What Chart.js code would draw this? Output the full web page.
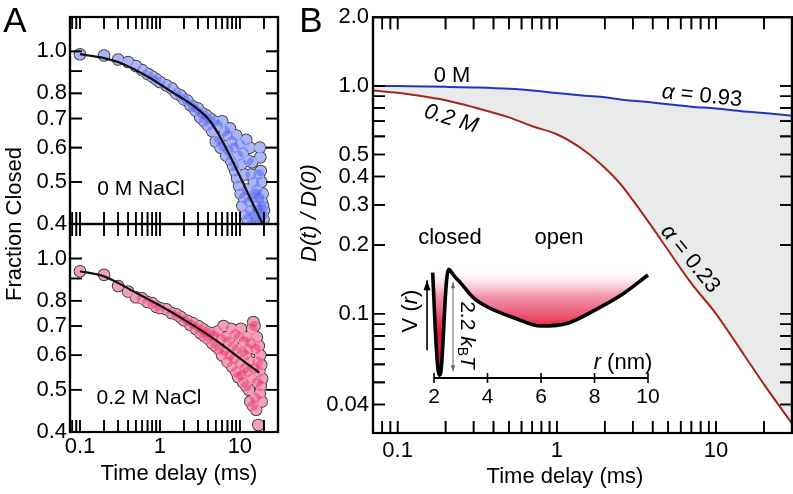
<!DOCTYPE html>
<html><head><meta charset="utf-8">
<script src="https://cdn.jsdelivr.net/npm/chart.js@4.4.1/dist/chart.umd.min.js"></script>
<style>
html,body{margin:0;padding:0;background:#fff;}
#wrap{position:relative;width:793px;height:494px;overflow:hidden;}
canvas{position:absolute;left:0;top:0;width:793px;height:494px;}
</style></head>
<body><div id="wrap">
<canvas id="cA1" width="793" height="494"></canvas>
<canvas id="cA2" width="793" height="494"></canvas>
<canvas id="cB" width="793" height="494"></canvas>
<canvas id="cI" width="793" height="494"></canvas>
</div>
<script>
const FF = '"Liberation Sans", Arial, Helvetica, sans-serif';

// ---------- Panel A data ----------
const tA0 = [0.1,0.2,0.3,0.4,0.5,0.6,0.7,0.8,0.9,1.0,
 1.2,1.4,1.6,1.8,2.0,2.2,2.4,2.6,2.8,3.0,3.2,3.4,3.6,3.8,4.0,
 4.25,4.5,4.75,5.0,5.25,5.5,5.75,6.0,6.25,6.5,6.75,7.0,7.25,7.5,7.75,8.0,8.25,8.5,8.75,9.0,9.25,9.5,9.75,10.0,
 10.25,10.5,10.75,11.0,11.25,11.5,11.75,12.0,12.25,12.5,12.75,13.0,13.25,13.5,13.75,14.0,14.25,14.5,14.75,15.0,
 15.25,15.5,15.75,16.0,16.25,16.5,16.75,17.0,17.25,17.5,17.75,18.0,18.25,18.5,18.75,19.0,19.25,19.5,19.75,20.0];
const fA0 = [0.985,0.978,0.958,0.945,0.925,0.905,0.888,0.875,0.862,0.85,
 0.835,0.822,0.80,0.792,0.775,0.77,0.752,0.745,0.73,0.738,0.705,0.72,0.69,0.712,0.675,
 0.70,0.655,0.69,0.62,0.675,0.63,0.60,0.69,0.605,0.655,0.575,0.64,0.59,0.665,0.56,0.62,0.545,0.60,0.53,0.64,0.51,0.575,0.49,0.61,
 0.47,0.55,0.44,0.585,0.46,0.52,0.42,0.625,0.48,0.41,0.56,0.45,0.60,0.43,0.52,0.40,0.555,0.46,0.39,0.50,
 0.42,0.47,0.41,0.44,0.38,0.48,0.43,0.40,0.52,0.46,0.60,0.57,0.53,0.50,0.45,0.42,0.47,0.44,0.41,0.43];
const tFit0 = [0.1,0.2,0.3,0.5,0.7,1,1.5,2,3,4,5,7,10,14,19.4];
const fFit0 = [0.985,0.965,0.945,0.905,0.875,0.84,0.80,0.775,0.735,0.70,0.66,0.59,0.515,0.452,0.40];

const tA2 = [0.1,0.2,0.3,0.4,0.5,0.6,0.7,0.8,0.9,1.0,
 1.2,1.4,1.6,1.8,2.0,2.2,2.4,2.6,2.8,3.0,3.2,3.4,3.6,3.8,4.0,
 4.25,4.5,4.75,5.0,5.25,5.5,5.75,6.0,6.25,6.5,6.75,7.0,7.25,7.5,7.75,8.0,8.25,8.5,8.75,9.0,9.25,9.5,9.75,10.0,
 10.25,10.5,10.75,11.0,11.25,11.5,11.75,12.0,12.25,12.5,12.75,13.0,13.25,13.5,13.75,14.0,14.25,14.5,14.75,15.0,
 15.25,15.5,15.75,16.0,16.25,16.5,16.75,17.0,17.25,17.5,17.75,18.0,18.25,18.5,18.75,19.0];
const fA2 = [0.935,0.918,0.865,0.84,0.815,0.81,0.795,0.79,0.775,0.77,
 0.765,0.75,0.745,0.735,0.722,0.72,0.705,0.71,0.69,0.70,0.675,0.69,0.665,0.68,0.655,
 0.675,0.64,0.665,0.63,0.68,0.62,0.655,0.60,0.70,0.615,0.66,0.58,0.645,0.60,0.69,0.565,0.63,0.59,0.67,0.55,0.62,0.535,0.66,0.575,
 0.69,0.54,0.61,0.52,0.645,0.56,0.60,0.51,0.66,0.55,0.62,0.50,0.58,0.47,0.64,0.53,0.69,0.46,0.715,0.56,
 0.70,0.48,0.62,0.45,0.66,0.52,0.58,0.415,0.63,0.55,0.49,0.60,0.51,0.57,0.47,0.53];
const tFit2 = [0.1,0.2,0.5,1,2,5,10,17.5];
const fFit2 = [0.935,0.91,0.835,0.78,0.724,0.65,0.59,0.547];

// ---------- Panel B data ----------
const tB = [0.07,0.1,0.15,0.2,0.3,0.5,0.7,1,1.5,2,2.5,3,4,5,7,10,15,20,30];
const dB0M = [1.0,0.997,0.994,0.99,0.983,0.97,0.955,0.93,0.905,0.89,0.872,0.86,0.845,0.83,0.81,0.795,0.772,0.76,0.74];
const dB02M = [0.955,0.932,0.895,0.864,0.805,0.727,0.665,0.613,0.518,0.437,0.372,0.315,0.238,0.19,0.136,0.1,0.066,0.049,0.033];

// ---------- Inset (potential) data ----------
const rInset = [1.9,1.95,2.0,2.05,2.1,2.15,2.2,2.25,2.3,2.35,2.4,2.45,2.5,2.56,2.65,2.8,3.0,3.5,4.0,5.0,6.0,7.0,8.0,9.0,10.0];
const vInset = [2.6,2.15,1.55,0.95,0.45,0.12,0.0,0.05,0.35,0.85,1.4,1.85,2.12,2.22,2.16,2.05,1.93,1.61,1.43,1.2,1.03,1.09,1.36,1.68,2.1];
const insetFillTop = 2.28;
const insetTickVals = [2,4,6,8,10];
const arrowR = 1.74, arrowV = [0.52, 1.99];
const barrierR = 2.71, barrierV = [0.08, 1.95];

// ---------- axis ranges & ticks ----------
const xRangeA = [0.075, 30], yRangeA = [0.4, 1.2];
const xRangeB = [0.07, 30], yRangeB = [0.03, 2.0];
const xLabelsA = [0.1,1,10];
const yLabelsA = [1.0,0.8,0.7,0.6,0.5,0.4];
const xTicksA = [0.08,0.09,0.1,0.2,0.3,0.4,0.5,0.6,0.7,0.8,0.9,1,2,3,4,5,6,7,8,9,10,20];
const yTicksA = [1.0,0.9,0.8,0.7,0.6,0.5];
const xLabelsB = [0.1,1,10];
const yLabelsB = [2.0,1.0,0.5,0.4,0.3,0.2,0.1,0.04];
const xTicksB = [0.08,0.09,0.1,0.2,0.3,0.4,0.5,0.6,0.7,0.8,0.9,1,2,3,4,5,6,7,8,9,10,20];
const yTicksB = [1.0,0.9,0.8,0.7,0.6,0.5,0.4,0.3,0.2,0.1,0.09,0.08,0.07,0.06,0.05,0.04];

// ---------- annotation texts: [cx, cy, angle, size, runs] ----------
const texts = [
  [15, 22, 0, 35, [['A']]],
  [311, 22, 0, 35, [['B']]],
  [15, 224, -90, 22, [['Fraction Closed']]],
  [179, 474, 0, 22, [['Time delay (ms)']]],
  [565, 477, 0, 22, [['Time delay (ms)']]],
  [310, 213, -90, 22, [['D(t) / D(0)', 1]]],
  [141, 189, 0, 21, [['0 M NaCl']]],
  [149, 398, 0, 21, [['0.2 M NaCl']]],
  [452, 76, 0, 22, [['0 M']]],
  [451, 119, 17, 22, [['0.2 M', 1]]],
  [702, 96, 6, 22, [['α', 1], [' = 0.93']]],
  [690, 259, 51, 22, [['α', 1], [' = 0.23']]],
  [450, 238, 0, 22, [['closed']]],
  [559, 238, 0, 22, [['open']]],
  [411, 311, -90, 22, [['V ('], ['r', 1], [')']]],
  [467, 335, 90, 21, [['2.2 '], ['k', 1], ['B', 0, 14, 5], ['T', 1]]],
  [623, 363, 0, 22, [['r', 1], [' (nm)']]]
];

const zip = (xs, ys) => xs.map((x, i) => ({x, y: ys[i]}));

function frameSets(xr, yr, xt, yt) {
  const xPts = [], yPts = [];
  xt.forEach(v => { xPts.push({x: v, y: yr[0]}, {x: v, y: yr[1]}); });
  yt.forEach(v => { yPts.push({x: xr[0], y: v}, {x: xr[1], y: v}); });
  const box = [{x: xr[0], y: yr[0]}, {x: xr[1], y: yr[0]}, {x: xr[1], y: yr[1]}, {x: xr[0], y: yr[1]}, {x: xr[0], y: yr[0]}];
  return [
    {data: xPts, showLine: false, pointStyle: 'line', pointRotation: 90, pointRadius: 12,
     borderColor: '#000', borderWidth: 1.6, pointBorderWidth: 1.6, pointBorderColor: '#000', clip: 0, order: -2},
    {data: yPts, showLine: false, pointStyle: 'line', pointRotation: 0, pointRadius: 12,
     borderColor: '#000', borderWidth: 1.6, pointBorderWidth: 1.6, pointBorderColor: '#000', clip: 0, order: -2},
    {data: box, showLine: true, pointRadius: 0, borderColor: '#000', borderWidth: 2.2, tension: 0,
     fill: false, clip: false, order: -3}
  ];
}

const frameCfg = {
  cA1: {xt: xTicksA, yt: yTicksA},
  cA2: {xt: xTicksA, yt: yTicksA},
  cB: {xt: xTicksB, yt: yTicksB}
};
const frameTicks = {
  id: 'frameTicks',
  afterDraw(chart) {
    const o = frameCfg[chart.canvas.id];
    if (!o) return;
    const {ctx, chartArea: a} = chart;
    const x = chart.scales.x, y = chart.scales.y;
    ctx.save(); ctx.strokeStyle = '#000'; ctx.lineWidth = 1.6; ctx.beginPath();
    o.xt.forEach(v => {
      const px = x.getPixelForValue(v);
      ctx.moveTo(px, a.top); ctx.lineTo(px, a.top + 12);
      ctx.moveTo(px, a.bottom); ctx.lineTo(px, a.bottom - 12);
    });
    o.yt.forEach(v => {
      const py = y.getPixelForValue(v);
      ctx.moveTo(a.left, py); ctx.lineTo(a.left + 12, py);
      ctx.moveTo(a.right, py); ctx.lineTo(a.right - 12, py);
    });
    ctx.stroke(); ctx.lineWidth = 2.2;
    ctx.strokeRect(a.left, a.top, a.right - a.left, a.bottom - a.top);
    ctx.restore();
  }
};

function drawArrow(ctx, px, yFrom, yTo, both, color, w, hw, hl) {
  ctx.strokeStyle = color; ctx.fillStyle = color; ctx.lineWidth = w;
  ctx.beginPath(); ctx.moveTo(px, yFrom); ctx.lineTo(px, yTo); ctx.stroke();
  const head = (yy, dir) => {
    ctx.beginPath(); ctx.moveTo(px, yy); ctx.lineTo(px - hw, yy + dir * hl); ctx.lineTo(px + hw, yy + dir * hl);
    ctx.closePath(); ctx.fill();
  };
  head(yTo, 1);
  if (both) head(yFrom, -1);
}

function drawText(ctx, item) {
  const [cx, cy, ang, size, runs] = item;
  const fontOf = r => (r[1] ? 'italic ' : '') + (r[2] || size) + 'px ' + FF;
  let total = 0;
  runs.forEach(r => { ctx.font = fontOf(r); total += ctx.measureText(r[0]).width; });
  ctx.save();
  ctx.translate(cx, cy);
  ctx.rotate(ang * Math.PI / 180);
  ctx.fillStyle = '#000';
  ctx.textBaseline = 'middle';
  ctx.textAlign = 'left';
  let xpos = -total / 2;
  runs.forEach(r => {
    ctx.font = fontOf(r);
    ctx.fillText(r[0], xpos, r[3] || 0);
    xpos += ctx.measureText(r[0]).width;
  });
  ctx.restore();
}

const insetDeco = {
  id: 'insetDeco',
  afterDraw(chart) {
    if (chart.canvas.id !== 'cI') return;
    const {ctx} = chart;
    const x = chart.scales.x, y = chart.scales.y;
    const y0 = y.getPixelForValue(y.min);
    ctx.save();
    ctx.strokeStyle = '#000'; ctx.lineWidth = 2;
    ctx.beginPath(); ctx.moveTo(x.getPixelForValue(insetTickVals[0]), y0);
    ctx.lineTo(x.getPixelForValue(insetTickVals[insetTickVals.length - 1]), y0); ctx.stroke();
    ctx.lineWidth = 1.6; ctx.beginPath();
    insetTickVals.forEach(v => { const px = x.getPixelForValue(v); ctx.moveTo(px, y0 - 5); ctx.lineTo(px, y0 + 5); });
    ctx.stroke();
    drawArrow(ctx, x.getPixelForValue(arrowR), y.getPixelForValue(arrowV[0]), y.getPixelForValue(arrowV[1]), false, '#000', 1.6, 3.5, 10);
    drawArrow(ctx, x.getPixelForValue(barrierR), y.getPixelForValue(barrierV[0]), y.getPixelForValue(barrierV[1]), true, '#666', 1, 2.2, 6);
    ctx.restore();
    texts.forEach(item => drawText(ctx, item));
  }
};
Chart.register(frameTicks, insetDeco);

const fmt1 = v => (v >= 0.1 ? Number(v).toFixed(1) : Number(v).toFixed(2));
const fmtX = v => (v >= 1 ? String(Math.round(v)) : String(v));

function logScale(range, labels, fmtFn, show, pad, fitSize, isX) {
  return {
    type: 'logarithmic', min: range[0], max: range[1], display: show,
    grid: {display: false, drawTicks: false}, border: {display: false},
    ticks: {autoSkip: false, maxRotation: 0, minRotation: 0, padding: pad, color: '#000',
      font: {family: FF, size: 22}, callback: v => fmtFn(v)},
    afterBuildTicks: s => { s.ticks = labels.map(v => ({value: v})); },
    afterFit: s => { if (!show) return; if (isX) s.height = fitSize; else s.width = fitSize; }
  };
}

function panelA(id, t, f, tf, ff, fillCol, bottomPanel) {
  const padBottom = bottomPanel ? (494 - 432 - 30) : (494 - 224);
  const pts = zip(t, f);
  return new Chart(document.getElementById(id), {
    type: 'scatter',
    data: {datasets: [
      {data: zip(tf, ff), showLine: true, pointRadius: 0, borderColor: '#111', borderWidth: 2.2,
       cubicInterpolationMode: 'monotone', order: 0},
      {data: pts, pointRadius: 5.3, backgroundColor: fillCol, borderWidth: 0, clip: 0, order: 1},
      {data: pts, pointRadius: 5.3, backgroundColor: '#ffffff', borderWidth: 0, clip: 0, order: 2},
      {data: pts, pointRadius: 6.3, backgroundColor: '#3a3a44', borderWidth: 0, clip: 0, order: 3},
      ...frameSets(xRangeA, yRangeA, xTicksA, yTicksA)
    ]},
    options: {
      responsive: false, animation: false, events: [],
      layout: {autoPadding: false, padding: {left: 10, right: 793 - 278, top: bottomPanel ? 224 : 17, bottom: padBottom}},
      plugins: {legend: {display: false}, tooltip: {enabled: false}},
      scales: {
        x: logScale(xRangeA, xLabelsA, fmtX, bottomPanel, 2, 30, true),
        y: logScale(yRangeA, yLabelsA, fmt1, true, 3, 60, false)
      }
    }
  });
}
panelA('cA1', tA0, fA0, tFit0, fFit0, 'rgba(70,90,235,0.45)', false);
panelA('cA2', tA2, fA2, tFit2, fFit2, 'rgba(230,45,100,0.45)', true);

new Chart(document.getElementById('cB'), {
  type: 'scatter',
  data: {datasets: [
    {data: zip(tB, dB0M), showLine: true, pointRadius: 0, borderColor: '#2234c0', borderWidth: 2,
     cubicInterpolationMode: 'monotone', fill: false},
    {data: zip(tB, dB02M), showLine: true, pointRadius: 0, borderColor: '#a3261c', borderWidth: 2,
     cubicInterpolationMode: 'monotone', fill: '-1', backgroundColor: '#e9eaea'},
    ...frameSets(xRangeB, yRangeB, xTicksB, yTicksB)
  ]},
  options: {
    responsive: false, animation: false, events: [],
    layout: {autoPadding: false, padding: {left: 373 - 60, right: 1, top: 16, bottom: 494 - 433 - 30}},
    plugins: {legend: {display: false}, tooltip: {enabled: false}, filler: {propagate: false}},
    scales: {
      x: logScale(xRangeB, xLabelsB, fmtX, true, 5, 30, true),
      y: logScale(yRangeB, yLabelsB, fmt1, true, 4, 60, false)
    }
  }
});

new Chart(document.getElementById('cI'), {
  type: 'scatter',
  data: {datasets: [
    {data: zip(rInset, vInset), showLine: true, pointRadius: 0, borderColor: '#000', borderWidth: 3.6,
     cubicInterpolationMode: 'monotone', clip: false,
     fill: {target: {value: insetFillTop}, above: 'rgba(0,0,0,0)'},
     backgroundColor: (c) => {
       const ch = c.chart; const ys = ch.scales && ch.scales.y;
       if (!ys || !ch.chartArea) return 'rgba(228,30,62,0.5)';
       const g = ch.ctx.createLinearGradient(0, ys.getPixelForValue(insetFillTop), 0, ys.getPixelForValue(0.95));
       g.addColorStop(0, 'rgba(255,255,255,0)');
       g.addColorStop(0.45, 'rgba(238,120,150,0.75)');
       g.addColorStop(1, 'rgb(228,28,60)');
       return g;
     }}
  ]},
  options: {
    responsive: false, animation: false, events: [],
    layout: {autoPadding: false, padding: {left: 434, right: 793 - 648, top: 245, bottom: 494 - 378 - 28}},
    plugins: {legend: {display: false}, tooltip: {enabled: false}},
    scales: {
      x: {type: 'linear', min: 2, max: 10, display: true,
          grid: {display: false, drawTicks: false}, border: {display: false},
          ticks: {autoSkip: false, maxRotation: 0, padding: 7, color: '#000', font: {family: FF, size: 21}},
          afterBuildTicks: s => { s.ticks = insetTickVals.map(v => ({value: v})); },
          afterFit: s => { s.height = 28; }},
      y: {type: 'linear', min: -0.06, max: 2.73, display: false}
    }
  }
});
</script>
</body></html>
